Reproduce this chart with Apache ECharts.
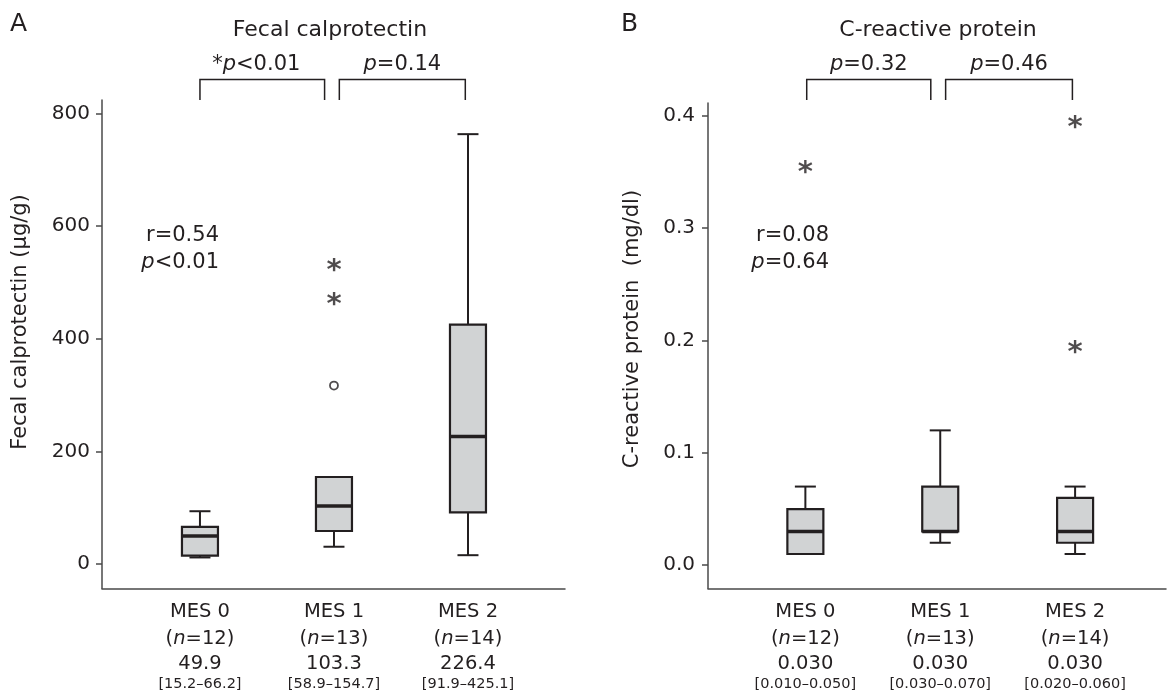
<!DOCTYPE html>
<html><head><meta charset="utf-8">
<script src="https://cdn.jsdelivr.net/npm/echarts@6/dist/echarts.min.js"></script>
<style>html,body{margin:0;padding:0;background:#fff}#c{width:1167px;height:692px}</style>
</head><body><div id="c"></div>
<script>
// ---------- data ----------
const categories = ['MES 0', 'MES 1', 'MES 2'];
const nCounts = [12, 13, 14];
// Fecal calprotectin: [lower whisker, Q1, median, Q3, upper whisker]
const fcBoxes = [
  [12, 15.2, 49.9, 66.2, 94],
  [31, 58.9, 103.3, 154.7, 154.7],
  [16, 91.9, 226.4, 425.1, 763]
];
const fcMedianText = ['49.9', '103.3', '226.4'];
const fcIqrText = ['[15.2–66.2]', '[58.9–154.7]', '[91.9–425.1]'];
const fcOutliers = [[1, 317]];
const fcExtremes = [[1, 531], [1, 472]];
const fcTicks = [0, 200, 400, 600, 800];
// C-reactive protein
const crpBoxes = [
  [0.01, 0.01, 0.03, 0.05, 0.07],
  [0.02, 0.03, 0.03, 0.07, 0.12],
  [0.01, 0.02, 0.03, 0.06, 0.07]
];
const crpMedianText = ['0.030', '0.030', '0.030'];
const crpIqrText = ['[0.010–0.050]', '[0.030–0.070]', '[0.020–0.060]'];
const crpExtremes = [[0, 0.355], [2, 0.395], [2, 0.195]];
const crpTicks = [0, 0.1, 0.2, 0.3, 0.4];
// comparisons: [from, to, prefix, value]
const fcComparisons = [[0, 0.93, '*', '<0.01'], [1.04, 1.98, '', '=0.14']];
const crpComparisons = [[0.01, 0.93, '', '=0.32'], [1.04, 1.98, '', '=0.46']];
const fcCorr = ['r=0.54', '<0.01'];
const crpCorr = ['r=0.08', '=0.64'];

// ---------- style ----------
const INK = '#231f20';
const FONT = '"DejaVu Sans", Verdana, sans-serif';
const BOXFILL = '#d1d3d4';

function boxRender(params, api) {
  const x = api.value(0);
  const pMin = api.coord([x, api.value(1)]);
  const pQ1 = api.coord([x, api.value(2)]);
  const pMd = api.coord([x, api.value(3)]);
  const pQ3 = api.coord([x, api.value(4)]);
  const pMax = api.coord([x, api.value(5)]);
  const cx = pMin[0];
  const hb = 18, hc = 10.5;
  const ls = { stroke: INK, lineWidth: 2 };
  return {
    type: 'group',
    children: [
      { type: 'line', shape: { x1: cx, y1: pQ3[1], x2: cx, y2: pMax[1] }, style: ls },
      { type: 'line', shape: { x1: cx - hc, y1: pMax[1], x2: cx + hc, y2: pMax[1] }, style: ls },
      { type: 'line', shape: { x1: cx, y1: pQ1[1], x2: cx, y2: pMin[1] }, style: ls },
      { type: 'line', shape: { x1: cx - hc, y1: pMin[1], x2: cx + hc, y2: pMin[1] }, style: ls },
      { type: 'rect', shape: { x: cx - hb, y: pQ3[1], width: 2 * hb, height: pQ1[1] - pQ3[1] },
        style: { fill: BOXFILL, stroke: INK, lineWidth: 2.2 } },
      { type: 'line', shape: { x1: cx - hb, y1: pMd[1], x2: cx + hb, y2: pMd[1] },
        style: { stroke: INK, lineWidth: 3.5 } }
    ]
  };
}

const richX = {
  a: { fontFamily: FONT, fontSize: 19.5, color: INK, lineHeight: 28 },
  b: { fontFamily: FONT, fontSize: 19.5, color: INK, lineHeight: 26 },
  i: { fontFamily: FONT, fontSize: 19.5, color: INK, lineHeight: 26, fontStyle: 'italic' },
  m: { fontFamily: FONT, fontSize: 19.5, color: INK, lineHeight: 24 },
  s: { fontFamily: FONT, fontSize: 14.5, color: INK, lineHeight: 17 }
};
function xLabel(medians, iqrs) {
  return function (v) {
    const k = Math.round(v);
    if (k < 0 || k > 2) return '';
    return '{a|' + categories[k] + '}\n{b|(}{i|n}{b|=' + nCounts[k] + ')}\n{m|' + medians[k] + '}\n{s|' + iqrs[k] + '}';
  };
}

const axisLineStyle = { color: '#4a4a4a', width: 1.5 };

const chart = echarts.init(document.getElementById('c'), null, { renderer: 'canvas' });

const option = {
  animation: false,
  backgroundColor: '#fff',
  grid: [
    { left: 102, right: 1167 - 565, top: 100, bottom: 692 - 589 },
    { left: 708, right: 1, top: 103, bottom: 692 - 589 }
  ],
  xAxis: [
    { type: 'value', gridIndex: 0, min: -0.731, max: 2.724,
      axisLine: { show: true, onZero: false, lineStyle: axisLineStyle },
      axisTick: { show: false }, splitLine: { show: false },
      axisLabel: { customValues: [0, 1, 2], margin: 9.5, formatter: xLabel(fcMedianText, fcIqrText), rich: richX } },
    { type: 'value', gridIndex: 1, min: -0.722, max: 2.674,
      axisLine: { show: true, onZero: false, lineStyle: axisLineStyle },
      axisTick: { show: false }, splitLine: { show: false },
      axisLabel: { customValues: [0, 1, 2], margin: 9.5, formatter: xLabel(crpMedianText, crpIqrText), rich: richX } }
  ],
  yAxis: [
    { type: 'value', gridIndex: 0, min: -43.1, max: 823.6,
      axisLine: { show: true, onZero: false, lineStyle: axisLineStyle },
      axisTick: { show: true, customValues: fcTicks, length: 6, lineStyle: axisLineStyle },
      splitLine: { show: false },
      axisLabel: { customValues: fcTicks, margin: 12, fontFamily: FONT, fontSize: 20, color: INK } },
    { type: 'value', gridIndex: 1, min: -0.0207, max: 0.4113,
      axisLine: { show: true, onZero: false, lineStyle: axisLineStyle },
      axisTick: { show: true, customValues: crpTicks, length: 6, lineStyle: axisLineStyle },
      splitLine: { show: false },
      axisLabel: { customValues: crpTicks, margin: 13, fontFamily: FONT, fontSize: 20, color: INK,
        formatter: v => v.toFixed(1) } }
  ],
  series: [
    { type: 'custom', xAxisIndex: 0, yAxisIndex: 0, renderItem: boxRender,
      encode: { x: 0, y: [1, 2, 3, 4, 5] },
      data: fcBoxes.map((b, i) => [i].concat(b)) },
    { type: 'custom', xAxisIndex: 1, yAxisIndex: 1, renderItem: boxRender,
      encode: { x: 0, y: [1, 2, 3, 4, 5] },
      data: crpBoxes.map((b, i) => [i].concat(b)) },
    { type: 'scatter', xAxisIndex: 0, yAxisIndex: 0, data: fcOutliers, symbol: 'circle', symbolSize: 8,
      itemStyle: { color: '#fff', borderColor: INK, borderWidth: 1.8 } },
    { type: 'scatter', xAxisIndex: 0, yAxisIndex: 0, data: fcExtremes, symbolSize: 1,
      itemStyle: { color: 'rgba(0,0,0,0)' },
      label: { show: true, position: 'inside', formatter: '*', fontFamily: FONT, fontWeight: 'bold', fontSize: 29, color: INK, offset: [0, 7] } },
    { type: 'scatter', xAxisIndex: 1, yAxisIndex: 1, data: crpExtremes, symbolSize: 1,
      itemStyle: { color: 'rgba(0,0,0,0)' },
      label: { show: true, position: 'inside', formatter: '*', fontFamily: FONT, fontWeight: 'bold', fontSize: 29, color: INK, offset: [0, 7] } }
  ]
};
chart.setOption(option);

// ---------- annotations ----------
const richP = {
  n: { fontFamily: FONT, fontSize: 21, fill: INK },
  i: { fontFamily: FONT, fontSize: 21, fill: INK, fontStyle: 'italic' }
};
function txt(x, y, text, size, align, rot) {
  return { type: 'text', x: x, y: y, rotation: rot || 0,
    style: { text: text, fontFamily: FONT, fontSize: size, fill: INK, align: align || 'center', verticalAlign: 'middle' } };
}
const g = [];
g.push(txt(10, 24.6, 'A', 25, 'left'));
g.push(txt(621, 24.6, 'B', 25, 'left'));
g.push(txt(330, 30, 'Fecal calprotectin', 22));
g.push(txt(938, 30, 'C-reactive protein', 22));
g.push(txt(21, 322, 'Fecal calprotectin (μg/g)', 21, 'center', Math.PI / 2));
g.push(txt(633, 329, 'C-reactive protein  (mg/dl)', 21, 'center', Math.PI / 2));

function brackets(comps, xi) {
  comps.forEach(c => {
    const x1 = chart.convertToPixel({ xAxisIndex: xi }, c[0]);
    const x2 = chart.convertToPixel({ xAxisIndex: xi }, c[1]);
    g.push({ type: 'polyline', shape: { points: [[x1, 100], [x1, 79.5], [x2, 79.5], [x2, 100]] },
      style: { stroke: INK, lineWidth: 1.5, fill: null } });
    const cx = (x1 + x2) / 2 - (c[2] ? 6 : 0);
    g.push({ type: 'text', x: cx, y: 64.5,
      style: { text: '{n|' + c[2] + '}{i|p}{n|' + c[3] + '}', rich: richP, align: 'center', verticalAlign: 'middle' } });
  });
}
brackets(fcComparisons, 0);
brackets(crpComparisons, 1);

function corr(c, xr) {
  g.push({ type: 'text', x: xr, y: 236, style: { text: '{n|' + c[0] + '}', rich: richP, align: 'right', verticalAlign: 'middle' } });
  g.push({ type: 'text', x: xr, y: 262.5, style: { text: '{i|p}{n|' + c[1] + '}', rich: richP, align: 'right', verticalAlign: 'middle' } });
}
corr(fcCorr, 219);
corr(crpCorr, 829);

chart.setOption({ graphic: g });
</script>
</body></html>
